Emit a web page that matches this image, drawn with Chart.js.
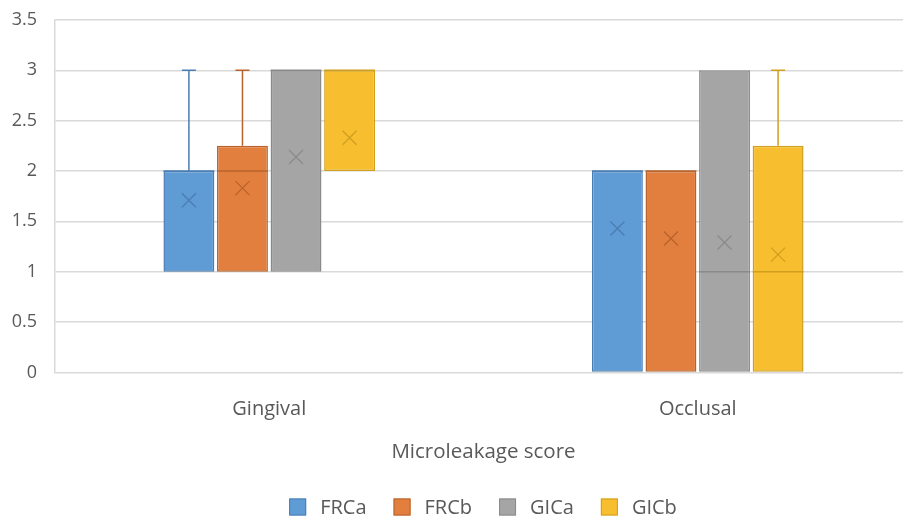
<!DOCTYPE html>
<html>
<head>
<meta charset="utf-8">
<script src="https://cdn.jsdelivr.net/npm/chart.js@4/dist/chart.umd.min.js"></script>
<style>
    html, body { margin: 0; padding: 0; background: #fff; }
    #wrap { width: 903px; height: 520px; }
</style>
</head>
<body>
<div id="wrap"><canvas id="chart" width="903" height="520"></canvas></div>
<script>
// categories and series
const categories = ['Gingival', 'Occlusal'];
const seriesNames = ['FRCa', 'FRCb', 'GICa', 'GICb'];

// box plot statistics, one row per series, one value per category
const boxLow = [[1, 0], [1, 0], [1, 0], [2, 0]];
const boxHigh = [[2, 2], [2.25, 2], [3, 3], [3, 2.25]];
const medians = [[2, 2], [2, 2], [3, 1], [3, 1]];
const whiskerMin = [[1, 0], [1, 0], [1, 0], [2, 0]];
const whiskerMax = [[3, 2], [3, 2], [3, 3], [3, 3]];
const means = [[1.71, 1.43], [1.83, 1.33], [2.14, 1.29], [2.33, 1.17]];

const yTicks = [0, 0.5, 1, 1.5, 2, 2.5, 3, 3.5];

const fills = ['#5F9BD5', '#E27F3E', '#A5A5A5', '#F7BE30'];
const borders = ['#4A7EB3', '#B8632C', '#8A8A8A', '#D19F1E'];
const textColor = '#595959';
const gridColor = '#D9D9D9';
const fontFamily = '"Open Sans", "Liberation Sans", sans-serif';

// the original plot area runs a little past the right edge of the image
const widenPlot = {
    id: 'widenPlot',
    afterLayout(chart) {
        const extra = 9;
        const x = chart.scales.x;
        x.right += extra;
        x.width += extra;
        chart.chartArea.right += extra;
        chart.chartArea.width += extra;
        x.configure();
    }
};

// whiskers, medians and mean markers on top of the floating bars
const boxExtras = {
    id: 'boxExtras',
    afterDatasetsDraw(chart) {
        const ctx = chart.ctx;
        const y = chart.scales.y;
        chart.data.datasets.forEach((ds, s) => {
            const meta = chart.getDatasetMeta(s);
            meta.data.forEach((bar, i) => {
                const x = bar.x;
                const half = bar.width / 2;
                ctx.save();
                ctx.strokeStyle = borders[s];
                ctx.lineWidth = 1.5;

                // upper whisker
                if (whiskerMax[s][i] > boxHigh[s][i]) {
                    ctx.beginPath();
                    ctx.moveTo(x, y.getPixelForValue(boxHigh[s][i]));
                    ctx.lineTo(x, y.getPixelForValue(whiskerMax[s][i]));
                    ctx.moveTo(x - 7, y.getPixelForValue(whiskerMax[s][i]));
                    ctx.lineTo(x + 7, y.getPixelForValue(whiskerMax[s][i]));
                    ctx.stroke();
                }
                // lower whisker
                if (whiskerMin[s][i] < boxLow[s][i]) {
                    ctx.beginPath();
                    ctx.moveTo(x, y.getPixelForValue(boxLow[s][i]));
                    ctx.lineTo(x, y.getPixelForValue(whiskerMin[s][i]));
                    ctx.moveTo(x - 7, y.getPixelForValue(whiskerMin[s][i]));
                    ctx.lineTo(x + 7, y.getPixelForValue(whiskerMin[s][i]));
                    ctx.stroke();
                }
                // median
                const my = y.getPixelForValue(medians[s][i]);
                ctx.beginPath();
                ctx.moveTo(x - half, my);
                ctx.lineTo(x + half, my);
                ctx.stroke();

                // mean marker
                const ay = y.getPixelForValue(means[s][i]);
                ctx.lineWidth = 1.3;
                ctx.beginPath();
                ctx.moveTo(x - 7, ay - 7);
                ctx.lineTo(x + 7, ay + 7);
                ctx.moveTo(x + 7, ay - 7);
                ctx.lineTo(x - 7, ay + 7);
                ctx.stroke();
                ctx.restore();
            });
        });
    }
};

// legend row under the axis title, drawn by hand so spacing can follow the original
const bottomLegend = {
    id: 'bottomLegend',
    afterDraw(chart) {
        const ctx = chart.ctx;
        ctx.save();
        ctx.font = '20px ' + fontFamily;
        ctx.textBaseline = 'middle';
        const box = 17, gap = 14, spacing = 27;
        const widths = seriesNames.map(n => ctx.measureText(n).width);
        const total = widths.reduce((a, w) => a + box + gap + w, 0) + spacing * (seriesNames.length - 1);
        let x = 483 - total / 2;
        const cy = 507;
        seriesNames.forEach((name, s) => {
            ctx.fillStyle = fills[s];
            ctx.fillRect(x, cy - box / 2, box, box);
            ctx.strokeStyle = borders[s];
            ctx.lineWidth = 1;
            ctx.strokeRect(x + 0.5, cy - box / 2 + 0.5, box - 1, box - 1);
            ctx.fillStyle = textColor;
            ctx.fillText(name, x + box + gap, cy + 1);
            x += box + gap + widths[s] + spacing;
        });
        ctx.restore();
    }
};

const datasets = seriesNames.map((name, s) => ({
    label: name,
    data: categories.map((c, i) => [boxLow[s][i], boxHigh[s][i]]),
    backgroundColor: fills[s],
    borderColor: borders[s],
    borderWidth: 1.5,
    borderSkipped: false,
    categoryPercentage: 0.5,
    barPercentage: 0.95
}));

Chart.defaults.font.family = fontFamily;
Chart.defaults.color = textColor;

new Chart(document.getElementById('chart'), {
    type: 'bar',
    data: { labels: categories, datasets: datasets },
    plugins: [widenPlot, boxExtras, bottomLegend],
    options: {
        responsive: false,
        animation: false,
        layout: { padding: { top: 0, right: 0, left: 0, bottom: 56 } },
        plugins: {
            legend: { display: false },
            tooltip: { enabled: false }
        },
        scales: {
            x: {
                grid: { display: false },
                border: { display: false },
                ticks: { font: { size: 20 }, padding: 17, color: textColor },
                title: {
                    display: true,
                    text: 'Microleakage score',
                    font: { size: 20.5 },
                    color: textColor,
                    padding: { top: 1, bottom: 0 }
                }
            },
            y: {
                min: 0,
                max: 3.5,
                afterBuildTicks: (axis) => {
                    axis.ticks = yTicks.map(v => ({ value: v }));
                },
                grid: { color: gridColor, lineWidth: 1.5, drawTicks: false },
                border: { display: true, color: gridColor, width: 1.5 },
                ticks: {
                    font: { size: 18 },
                    padding: 18,
                    color: textColor,
                    callback: (v) => String(v)
                },
                afterFit: (axis) => {
                    axis.width = 55;
                    axis.paddingTop = 20;
                    axis.paddingBottom = 11;
                }
            }
        }
    }
});
</script>
</body>
</html>
